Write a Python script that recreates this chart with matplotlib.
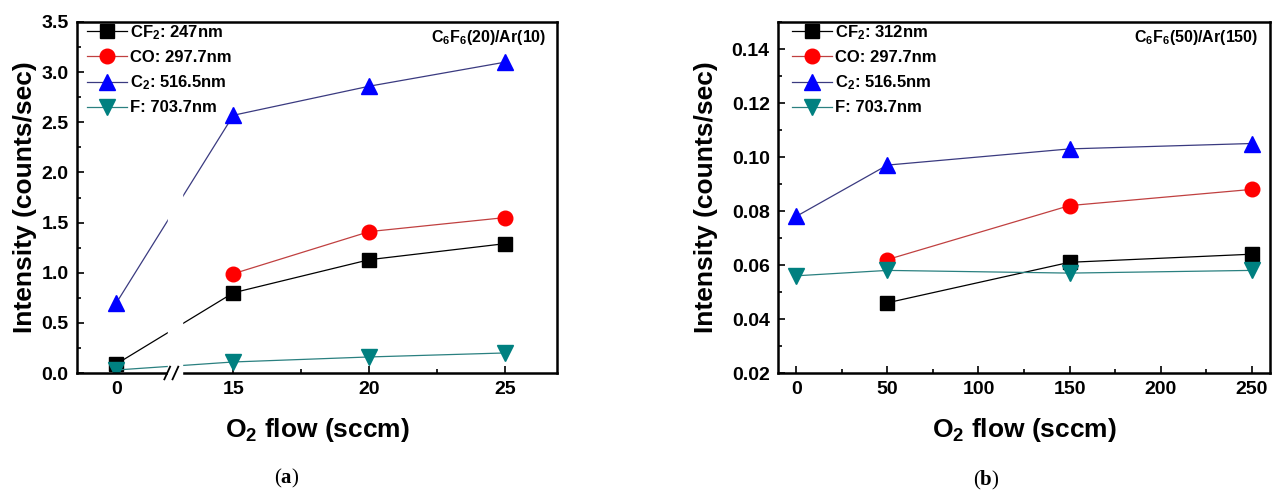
import numpy as np
import matplotlib.pyplot as plt
from matplotlib.ticker import MultipleLocator, FixedLocator, FormatStrFormatter

plt.rcParams['font.family'] = ['Liberation Sans', 'DejaVu Sans']
plt.rcParams['font.weight'] = 'bold'
plt.rcParams['mathtext.fontset'] = 'custom'
plt.rcParams['mathtext.default'] = 'regular'
plt.rcParams['mathtext.bf'] = 'Liberation Serif:bold'

# (a) C6F6(20)/Ar(10), O2 flow in sccm (axis broken between 0 and 15)
flow_a = [0, 15, 20, 25]
cf2_a = [0.09, 0.80, 1.13, 1.29]
co_a = [np.nan, 0.99, 1.41, 1.55]
c2_a = [0.70, 2.57, 2.86, 3.10]
f_a = [0.03, 0.11, 0.16, 0.20]
labels_a = ['CF$_2$: 247nm', 'CO: 297.7nm', 'C$_2$: 516.5nm', 'F: 703.7nm']

# (b) C6F6(50)/Ar(150)
flow_b = [0, 50, 150, 250]
cf2_b = [np.nan, 0.046, 0.061, 0.064]
co_b = [np.nan, 0.062, 0.082, 0.088]
c2_b = [0.078, 0.097, 0.103, 0.105]
f_b = [0.056, 0.058, 0.057, 0.058]
labels_b = ['CF$_2$: 312nm', 'CO: 297.7nm', 'C$_2$: 516.5nm', 'F: 703.7nm']

# marker, face colour, line colour, marker size
styles = [('s', 'black', 'black', 9.5),
          ('o', '#ff0000', '#c04040', 10.5),
          ('^', '#0000ff', '#3a3a80', 11.5),
          ('v', '#008080', '#2a8080', 11.5)]

# broken x axis for (a): squeeze the empty stretch between 0 and 15
brk_data = [-20, 1.9, 13.1, 40]
brk_pos = [-9.3, 12.6, 13.1, 40]


def fwd(x):
    return np.interp(x, brk_data, brk_pos)


def inv(p):
    return np.interp(p, brk_pos, brk_data)


fig = plt.figure(figsize=(12.77, 4.93), dpi=100)
ax1 = fig.add_axes([77 / 1277, 120 / 493, 480 / 1277, 351 / 493])
ax2 = fig.add_axes([778 / 1277, 120 / 493, 492 / 1277, 351 / 493])

for ax, x, series, labels in [(ax1, flow_a, [cf2_a, co_a, c2_a, f_a], labels_a),
                              (ax2, flow_b, [cf2_b, co_b, c2_b, f_b], labels_b)]:
    for y, (m, fc, lc, ms), lab in zip(series, styles, labels):
        ax.plot(x, y, color=lc, lw=0.9, marker=m, ms=ms, mfc=fc, mec=fc, label=lab)

# panel (a) axes
ax1.set_xscale('function', functions=(fwd, inv))
ax1.set_xlim(-1.45, 26.9)
ax1.set_ylim(0, 3.5)
ax1.xaxis.set_major_locator(FixedLocator(flow_a))
ax1.xaxis.set_minor_locator(FixedLocator([17.5, 22.5]))
ax1.set_xticklabels([str(v) for v in flow_a])
ax1.yaxis.set_major_locator(MultipleLocator(0.5))
ax1.yaxis.set_minor_locator(MultipleLocator(0.25))
ax1.yaxis.set_major_formatter(FormatStrFormatter('%.1f'))

# white gap + break marks
ax1.axvspan(1.9, 13.1, ymin=-0.02, ymax=0.99, color='white', zorder=3, clip_on=False)
for xf in (0.188, 0.205):
    ax1.plot([xf - 0.006, xf + 0.006], [-0.018, 0.018], color='black', lw=1.3,
             transform=ax1.transAxes, clip_on=False, zorder=4)

# panel (b) axes
ax2.set_xlim(-10, 260)
ax2.set_ylim(0.02, 0.15)
ax2.xaxis.set_major_locator(MultipleLocator(50))
ax2.xaxis.set_minor_locator(MultipleLocator(25))
ax2.yaxis.set_major_locator(MultipleLocator(0.02))
ax2.yaxis.set_minor_locator(MultipleLocator(0.01))
ax2.yaxis.set_major_formatter(FormatStrFormatter('%.2f'))

for ax, lx, note, legx in [(ax1, -0.108, 'C$_6$F$_6$(20)/Ar(10)', 10 / 480),
                           (ax2, -0.146, 'C$_6$F$_6$(50)/Ar(150)', 14 / 492)]:
    for s in ax.spines.values():
        s.set_linewidth(1.8)
    ax.tick_params(which='both', direction='in', top=False, right=False, width=1.2,
                   labelsize=14, pad=6)
    ax.tick_params(which='major', length=5)
    ax.tick_params(which='minor', length=3)
    for t in ax.get_xticklabels() + ax.get_yticklabels():
        t.set_fontweight('bold')
    ax.set_ylabel('Intensity (counts/sec)', fontsize=19, fontweight='bold')
    ax.yaxis.label.set_va('center')
    ax.yaxis.set_label_coords(lx, 0.5)
    ax.set_xlabel('O$_2$ flow (sccm)', fontsize=19, fontweight='bold')
    ax.xaxis.label.set_va('center')
    ax.xaxis.set_label_coords(0.5, -0.163)
    ax.text(0.977, 0.957, note, transform=ax.transAxes, ha='right', va='center',
            fontsize=11.5, fontweight='bold')
    ax.legend(loc='upper left', bbox_to_anchor=(legx, 0.997), frameon=False,
              borderpad=0, borderaxespad=0, handlelength=2.4, handletextpad=0.2,
              labelspacing=0.5, prop={'weight': 'bold', 'size': 12})

fig.text(287 / 1277, 15 / 493, r'($\mathbf{a}$)', family='Liberation Serif',
         fontweight='normal', fontsize=15, ha='center', va='center')
fig.text(986 / 1277, 13 / 493, r'($\mathbf{b}$)', family='Liberation Serif',
         fontweight='normal', fontsize=15, ha='center', va='center')

fig.savefig('out.png', dpi=100)
